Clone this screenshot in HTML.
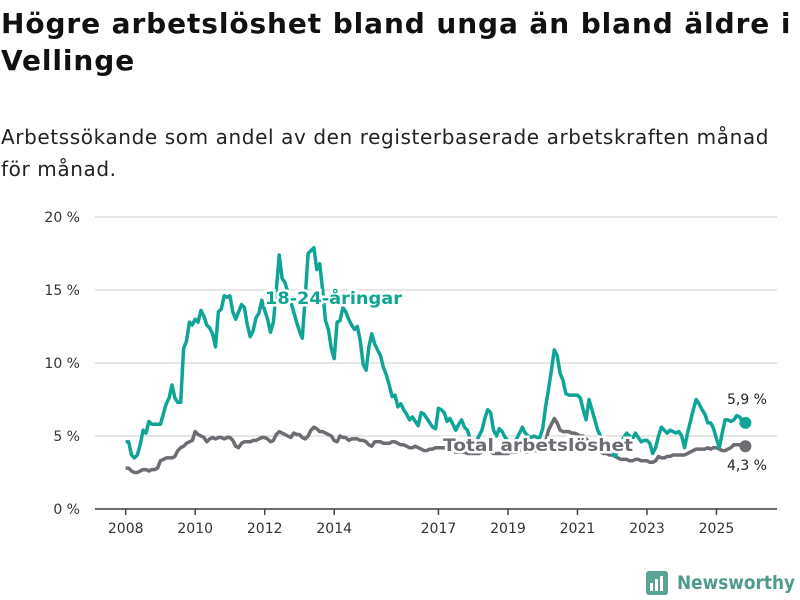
<!DOCTYPE html>
<html><head><meta charset="utf-8"><style>
body{margin:0;width:800px;height:600px;background:#fff;font-family:"DejaVu Sans","Liberation Sans",sans-serif;overflow:hidden;position:relative}
#title{position:absolute;left:1px;top:5px;font-size:28px;font-weight:bold;line-height:37px;color:#111;margin:0;width:800px;white-space:nowrap;letter-spacing:0.9px}
#sub{position:absolute;left:1px;top:121px;font-size:20px;line-height:32px;color:#222;margin:0;width:800px;white-space:nowrap;letter-spacing:0.6px}
svg{position:absolute;left:0;top:0}
</style></head><body>
<h1 id="title">Högre arbetslöshet bland unga än bland äldre i<br>Vellinge</h1>
<p id="sub">Arbetssökande som andel av den registerbaserade arbetskraften månad<br>för månad.</p>
<svg id="chart" width="800" height="600"></svg>
<script>
const yTicks=[0,5,10,15,20];
const yTickLabels=["0 %","5 %","10 %","15 %","20 %"];
const xTicks=[2008,2010,2012,2014,2017,2019,2021,2023,2025];
const startYear=2008;
const youth=[4.6,4.6,3.7,3.5,3.7,4.4,5.4,5.2,6.0,5.8,5.8,5.8,
5.8,6.5,7.2,7.6,8.5,7.6,7.3,7.3,11.0,11.5,12.8,12.6,
13.0,12.8,13.6,13.2,12.6,12.4,12.0,11.1,13.5,13.7,14.6,14.5,
14.6,13.5,13.0,13.5,14.0,13.8,12.6,11.8,12.2,13.1,13.4,14.3,
13.6,13.0,12.1,12.8,15.0,17.4,15.8,15.5,14.8,14.2,13.5,12.8,
12.2,11.7,14.5,17.5,17.7,17.9,16.4,16.8,15.0,12.9,12.3,11.0,
10.3,12.8,12.9,13.8,13.5,13.0,12.6,12.3,12.5,11.5,9.9,9.5,
11.1,12.0,11.3,10.9,10.5,9.7,9.2,8.5,7.7,7.8,7.0,7.2,
6.8,6.5,6.1,6.3,6.0,5.7,6.6,6.5,6.2,5.9,5.6,5.5,
6.9,6.8,6.6,6.0,6.2,5.8,5.4,5.8,6.1,5.6,5.4,4.8,
4.5,4.6,5.0,5.4,6.2,6.8,6.6,5.4,5.0,5.5,5.3,4.9,
4.7,4.5,4.6,4.8,5.2,5.6,5.2,5.0,4.9,5.0,4.9,4.9,
5.5,7.0,8.2,9.5,10.9,10.5,9.3,8.8,7.9,7.8,7.8,7.8,
7.8,7.6,6.8,6.1,7.5,6.8,6.1,5.4,5.0,4.6,4.4,4.2,
3.8,3.6,4.0,4.5,4.9,5.2,5.0,4.8,5.2,4.9,4.6,4.7,
4.7,4.5,3.8,4.2,5.0,5.6,5.4,5.2,5.4,5.3,5.2,5.3,
5.0,4.2,5.2,6.0,6.8,7.5,7.2,6.8,6.5,5.9,5.9,5.5,
4.8,4.2,5.2,6.1,6.1,6.0,6.1,6.4,6.3,6.0,5.9];
const total=[2.8,2.8,2.6,2.5,2.5,2.6,2.7,2.7,2.6,2.7,2.7,2.8,
3.3,3.4,3.5,3.5,3.5,3.6,4.0,4.2,4.3,4.5,4.6,4.7,
5.3,5.1,5.0,4.9,4.6,4.8,4.9,4.8,4.9,4.9,4.8,4.9,
4.9,4.7,4.3,4.2,4.5,4.6,4.6,4.6,4.7,4.7,4.8,4.9,
4.9,4.8,4.6,4.7,5.1,5.3,5.2,5.1,5.0,4.9,5.2,5.1,
5.1,4.9,4.8,5.0,5.4,5.6,5.5,5.3,5.3,5.2,5.1,5.0,
4.7,4.6,5.0,4.9,4.9,4.7,4.8,4.8,4.8,4.7,4.7,4.6,
4.4,4.3,4.6,4.6,4.6,4.5,4.5,4.5,4.6,4.6,4.5,4.4,
4.4,4.3,4.2,4.2,4.3,4.2,4.1,4.0,4.0,4.1,4.1,4.2,
4.2,4.2,4.2,4.1,4.1,4.0,3.9,3.9,3.9,3.9,3.8,3.8,
3.8,3.8,3.8,3.9,4.0,4.0,3.9,3.8,3.8,3.8,3.8,3.8,
3.8,3.9,3.9,3.9,4.0,4.0,3.9,3.9,4.0,4.0,4.0,4.1,
4.2,4.6,5.4,5.8,6.2,5.9,5.4,5.3,5.3,5.3,5.2,5.2,
5.1,5.0,5.0,4.8,4.6,4.4,4.2,4.0,3.9,3.8,3.8,3.7,
3.7,3.6,3.5,3.4,3.4,3.4,3.3,3.3,3.4,3.4,3.3,3.3,
3.3,3.2,3.2,3.3,3.6,3.5,3.5,3.6,3.6,3.7,3.7,3.7,
3.7,3.7,3.8,3.9,4.0,4.1,4.1,4.1,4.1,4.2,4.1,4.2,
4.2,4.1,4.0,4.0,4.1,4.2,4.4,4.4,4.4,4.3,4.3];
const NS="http://www.w3.org/2000/svg";
const svg=document.getElementById('chart');
const xYear=y=>125.7+(y-2008)*34.75;
const xIdx=i=>xYear(startYear+i/12);
const yVal=v=>509-v*14.6;
function mk(t,a,p){const e=document.createElementNS(NS,t);for(const k in a)e.setAttribute(k,a[k]);(p||svg).appendChild(e);return e;}
yTicks.forEach((v,i)=>{
  const g=mk('line',{x1:95,x2:777,y1:yVal(v),y2:yVal(v),stroke:'#dddddd','stroke-width':1.5});
  
  
  const t=mk('text',{x:80,y:yVal(v)+5,'text-anchor':'end','font-size':14,fill:'#333'});
  t.textContent=yTickLabels[i];
  
  
});
const ax=mk('line',{x1:95,x2:777,y1:509,y2:509,stroke:'#444','stroke-width':1.5});


xTicks.forEach(y=>{
  const tk=mk('line',{x1:xYear(y),x2:xYear(y),y1:509,y2:515,stroke:'#444','stroke-width':1.5});
  
  
  const t=mk('text',{x:xYear(y),y:533,'text-anchor':'middle','font-size':14,fill:'#333'});
  t.textContent=y;
  
  
});
function path(arr){return arr.map((v,i)=>(i?'L':'M')+xIdx(i).toFixed(1)+','+yVal(v).toFixed(1)).join('');}
const lt=mk('path',{d:path(total),fill:'none',stroke:'#6d6c72','stroke-width':3.5,'stroke-linejoin':'round'});


const ly=mk('path',{d:path(youth),fill:'none',stroke:'#0ea596','stroke-width':3.5,'stroke-linejoin':'round'});


const ny=youth.length-1,nt=total.length-1;
const dy=mk('circle',{cx:xIdx(ny),cy:yVal(youth[ny]),r:6,fill:'#0ea596'});


const dt=mk('circle',{cx:xIdx(nt),cy:yVal(total[nt]),r:6,fill:'#6d6c72'});


const vy=mk('text',{x:767,y:yVal(youth[ny])-19,'text-anchor':'end','font-size':14,fill:'#222'});
vy.textContent=String(youth[ny]).replace('.',',')+' %';


const vt=mk('text',{x:767,y:yVal(total[nt])+24,'text-anchor':'end','font-size':14,fill:'#222'});
vt.textContent=String(total[nt]).replace('.',',')+' %';


const l1=mk('text',{x:265,y:304,'font-size':17,'font-weight':'bold',fill:'#0ea596',stroke:'#fff','stroke-width':5,'paint-order':'stroke',textLength:137,lengthAdjust:'spacingAndGlyphs'});
l1.textContent='18-24-åringar';


const l2=mk('text',{x:443,y:451,'font-size':17,'font-weight':'bold',fill:'#6d6c72',stroke:'#fff','stroke-width':5,'paint-order':'stroke',textLength:190,lengthAdjust:'spacingAndGlyphs'});
l2.textContent='Total arbetslöshet';


const lg=mk('g',{});


mk('rect',{x:646,y:571,width:22,height:24,rx:3,fill:'#5aa394'},lg);
mk('rect',{x:650,y:583,width:3,height:8,fill:'#fff'},lg);
mk('rect',{x:655,y:579,width:3,height:12,fill:'#fff'},lg);
mk('rect',{x:660,y:576,width:3,height:15,fill:'#fff'},lg);
const lt2=mk('text',{x:677,y:589,'font-size':19,'font-weight':'bold',fill:'#4e9a8c',textLength:118,lengthAdjust:'spacingAndGlyphs'},lg);
lt2.textContent='Newsworthy';
</script>
</body></html>
